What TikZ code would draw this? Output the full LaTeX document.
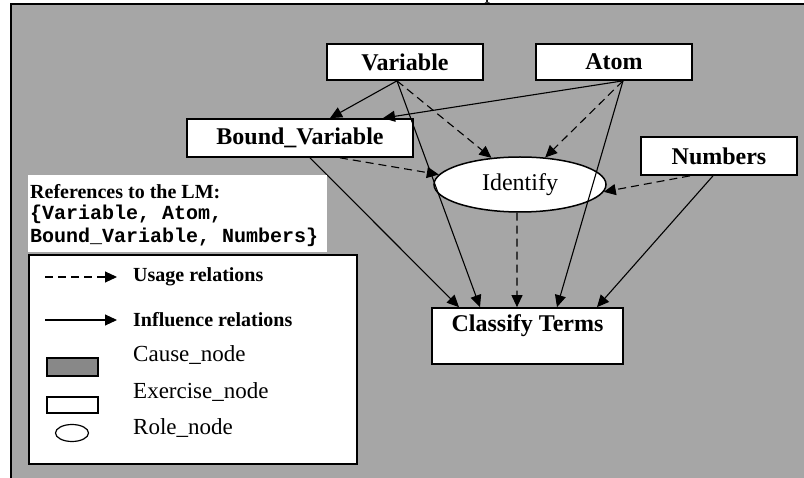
\documentclass[tikz,border=0pt]{standalone}
\usepackage{fontspec}
\setmainfont{Liberation Serif}
\newfontfamily\codefont{Liberation Mono}
\usetikzlibrary{arrows.meta,shapes.geometric}
\definecolor{panel}{RGB}{166,166,166}
\definecolor{causefill}{RGB}{136,136,136}
\begin{document}
\begin{tikzpicture}[x=1pt,y=-1pt,
  lmbox/.style={draw=black, line width=1.7pt, fill=white, inner sep=0pt,
    font=\fontsize{24}{28}\selectfont\bfseries},
  rolebox/.style={ellipse, draw=black, line width=1.5pt, fill=white, inner sep=0pt,
    font=\fontsize{24}{28}\selectfont},
  tip/.style={-{Triangle[length=12pt,width=11pt]}},
  usage/.style={tip, line width=1.1pt, dash pattern=on 8pt off 5pt},
  influence/.style={tip, line width=1.1pt},
  legbold/.style={anchor=west, inner sep=0pt, font=\fontsize{20}{24}\selectfont\bfseries},
  legtext/.style={anchor=west, inner sep=0pt, font=\fontsize{23}{27}\selectfont},
  reftext/.style={anchor=west, inner sep=0pt},
]
\useasboundingbox (0,0) rectangle (804,478);
% page and panel
\fill[white] (0,0) rectangle (804,478);
\node[anchor=base, inner sep=0pt, font=\fontsize{22}{26}\selectfont] (capfrag) at (490,-1) {p};
\fill[panel] (10.5,4.5) rectangle (804,478);
\draw[line width=2pt] (10.5,478) -- (10.5,4.5) -- (804,4.5);

% learning-material nodes
\node[lmbox, minimum width=156, minimum height=36] (var) at (405,62) {Variable};
\node[lmbox, minimum width=156, minimum height=36] (atom) at (614,62) {Atom};
\node[lmbox, minimum width=226, minimum height=38] (bvar) at (300,138) {Bound\_Variable};
\node[lmbox, minimum width=156, minimum height=38] (num) at (719,156) {Numbers};
\node[rolebox, minimum width=172, minimum height=55] (ident) at (520,184.5) {Identify};
\node[lmbox, minimum width=191, inner ysep=3pt, text height=21pt, text depth=29pt]
  (cls) at (527.5,336) {Classify Terms};

% connector end points on the node borders
\coordinate (vB) at ([xshift=-8pt]var.south);
\coordinate (aB) at ([xshift=9pt]atom.south);
\coordinate (bS1) at ([xshift=10pt]bvar.south);
\coordinate (bS2) at ([xshift=40pt]bvar.south);
\coordinate (bT1) at ([xshift=30pt]bvar.north);
\coordinate (bT2) at ([xshift=83pt]bvar.north);
\coordinate (nS1) at ([xshift=-6pt]num.south);
\coordinate (nS2) at ([xshift=-29pt]num.south);
\coordinate (cT1) at ([xshift=-68.5pt]cls.north);
\coordinate (cT2) at ([xshift=-47.5pt]cls.north);
\coordinate (cT3) at ([xshift=-10.5pt]cls.north);
\coordinate (cT4) at ([xshift=29.5pt]cls.north);
\coordinate (cT5) at ([xshift=69.5pt]cls.north);

% influence relations
\draw[influence] (vB) -- (bT1);
\draw[influence] (aB) -- (bT2);
\draw[influence] (vB) -- (cT2);
\draw[influence] (bS1) -- (cT1);
\draw[influence] (aB) -- (cT4);
\draw[influence] (nS1) -- (cT5);

% usage relations
\draw[usage] (vB) -- (ident.137);
\draw[usage] (aB) -- (ident.47);
\draw[usage] (bS2) -- (ident.173);
\draw[usage] (nS2) -- (ident.355);
\draw[usage] (ident.264) -- (cT3);

% references to the learning material
\fill[white] (28,175) rectangle (327,252);
\node[reftext, font=\fontsize{20}{24}\selectfont\bfseries] (refhead) at (30,192) {References to the LM:};
\node[reftext, font=\fontsize{20}{24}\codefont\bfseries] (refl1) at (30,214) {\{Variable, Atom,};
\node[reftext, font=\fontsize{20}{24}\codefont\bfseries] (refl2) at (30,237) {Bound\_Variable, Numbers\}};

% legend
\draw[line width=1.7pt, fill=white] (29,255) rectangle (357,464);
\coordinate (u1) at (45,277);
\coordinate (u2) at (117,277);
\draw[usage] (u1) -- (u2);
\node[legbold] (usagelbl) at (133,277) {Usage relations};
\coordinate (i1) at (45,320);
\coordinate (i2) at (117,320);
\draw[influence] (i1) -- (i2);
\node[legbold] (inflbl) at (133,320) {Influence relations};
\draw[line width=1.4pt, fill=causefill] (47,358) rectangle (98,376);
\node[legtext] (causelbl) at (133,355) {Cause\_node};
\draw[line width=1.4pt, fill=white] (47,397) rectangle (98,413);
\node[legtext] (exlbl) at (133,392) {Exercise\_node};
\node[ellipse, draw, line width=1.2pt, minimum width=33, minimum height=17, inner sep=0pt] (rolesym) at (72,433) {};
\node[legtext] (rolelbl) at (133,428) {Role\_node};
\end{tikzpicture}
\end{document}
